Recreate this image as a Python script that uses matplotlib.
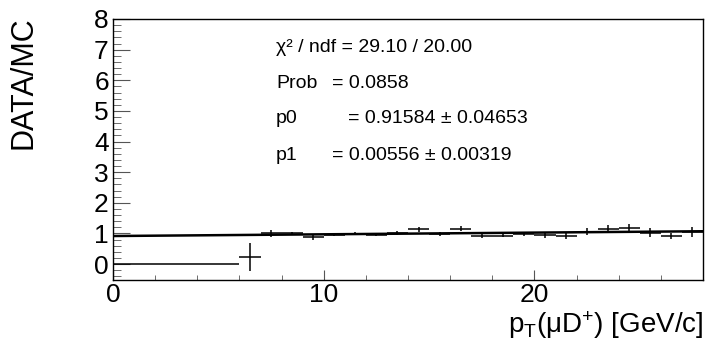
import numpy as np
import matplotlib
matplotlib.use('Agg')
import matplotlib.pyplot as plt

plt.rcParams['font.family'] = ['Liberation Sans', 'DejaVu Sans']
plt.rcParams['mathtext.fontset'] = 'custom'
plt.rcParams['mathtext.rm'] = 'Liberation Sans'
plt.rcParams['mathtext.it'] = 'Liberation Sans:italic'

# DATA/MC ratio per 1 GeV/c bin, lower edges 0..27
bin_lo = np.arange(0, 28)
ratio = [0, 0, 0, 0, 0, 0, 0.23,
         1.01, 1.00, 0.88, 0.96, 0.99, 0.96, 1.02, 1.13, 0.98, 1.16,
         0.92, 0.93, 0.99, 0.94, 0.93, 1.06, 1.15, 1.17, 1.03, 0.92, 1.04]
ratio_err = [0, 0, 0, 0, 0, 0, 0.45,
             0.11, 0.06, 0.08, 0.05, 0.05, 0.05, 0.06, 0.08, 0.06, 0.09,
             0.07, 0.06, 0.07, 0.08, 0.10, 0.11, 0.14, 0.15, 0.15, 0.11, 0.16]

# pol1 fit result
p0, p0_err = 0.91584, 0.04653
p1, p1_err = 0.00556, 0.00319
chi2, ndf, prob = 29.10, 20.00, 0.0858

W, H = 706, 344
fig = plt.figure(figsize=(W / 100, H / 100), dpi=100)
ax = fig.add_axes([113 / W, 1 - 280 / H, (703 - 113) / W, (280 - 19) / H])

centers = bin_lo + 0.5
ax.errorbar(centers, ratio, xerr=0.5, yerr=ratio_err, fmt='none',
            ecolor='black', elinewidth=1.1, capsize=0)

xfit = np.array([0, 28])
ax.plot(xfit, p0 + p1 * xfit, color='black', lw=1.8)

ax.set_xlim(0, 28)
ax.set_ylim(-0.52, 8)
ax.set_xticks([0, 10, 20])
ax.set_xticks(np.arange(0, 28.1, 2), minor=True)
ax.set_yticks(np.arange(0, 9, 1))
ax.set_yticks(np.arange(-0.4, 8.01, 0.2), minor=True)

ax.tick_params(axis='both', which='both', direction='in', top=False, right=False,
               labelsize=19, color='#555555')
ax.tick_params(axis='y', which='major', length=12, pad=3)
ax.tick_params(axis='y', which='minor', length=5.5)
ax.tick_params(axis='x', which='major', length=7, pad=2)
ax.tick_params(axis='x', which='minor', length=3.5)
for s in ax.spines.values():
    s.set_linewidth(1.0)

# axis titles, ROOT style (right/top aligned)
fig.text(24 / W, 1 - 83 / H, 'DATA/MC', rotation=90, ha='center', va='center',
         fontsize=22)
fig.text(703 / W, 1 - 341 / H, r'p$_\mathregular{T}$(μD$^\mathregular{+}$) [GeV/c]',
         ha='right', va='bottom', fontsize=20)

# fit statistics
fig.text(276 / W, 1 - 48 / H, f'χ² / ndf = {chi2:.2f} / {ndf:.2f}',
         ha='left', va='center', fontsize=14)
stats = [
    (84, 'Prob', 332, f'= {prob:.4f}'),
    (119, 'p0', 348, f'= {p0:.5f} ± {p0_err:.5f}'),
    (155, 'p1', 332, f'= {p1:.5f} ± {p1_err:.5f}'),
]
for y, name, xv, val in stats:
    fig.text(276 / W, 1 - y / H, name, ha='left', va='center', fontsize=14)
    fig.text(xv / W, 1 - y / H, val, ha='left', va='center', fontsize=14)

fig.savefig('out.png', dpi=100)
